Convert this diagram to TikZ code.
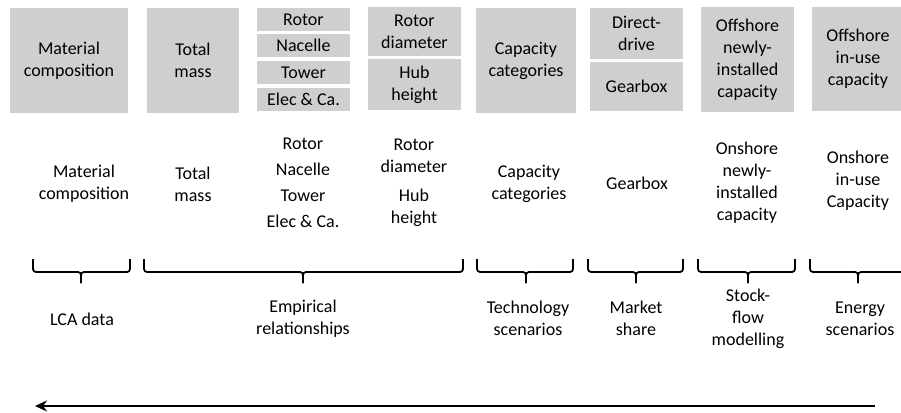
\documentclass[tikz,border=0pt]{standalone}
\usepackage{fontspec}
\setmainfont{Carlito}
\usetikzlibrary{arrows.meta}
\definecolor{boxgray}{RGB}{208,206,206}
\tikzset{
  txt/.style={font=\fontsize{18}{22}\selectfont, align=center, inner sep=0pt},
  gbox/.style={txt, fill=boxgray, minimum width=#1},
  gbox/.default=93pt,
  brace/.style={line width=1.8pt, rounded corners=3pt},
  flowarrow/.style={line width=2.6pt, -{Stealth[length=12pt,width=11pt,inset=4pt]}}
}
\begin{document}
\begin{tikzpicture}[x=1pt,y=-1pt]
\useasboundingbox (0,0) rectangle (901,412);
% top grey boxes
\node[gbox=118pt, minimum height=105pt] (b1) at (69,60.5) {Material\\composition};
\node[gbox=92pt, minimum height=105pt] (b2) at (193,60.5) {Total\\mass};
\node[gbox, minimum height=23pt] (b3a) at (303.5,19.5) {Rotor};
\node[gbox, minimum height=23pt] (b3b) at (303.5,45.5) {Nacelle};
\node[gbox, minimum height=23pt] (b3c) at (303.5,72.5) {Tower};
\node[gbox, minimum height=23pt] (b3d) at (303.5,99.5) {Elec \& Ca.};
\node[gbox, minimum height=49pt] (b4a) at (414.5,31.5) {Rotor\\diameter};
\node[gbox, minimum height=51pt] (b4b) at (414.5,84.5) {Hub\\height};
\node[gbox=100pt, minimum height=105pt] (b5) at (526,60.5) {Capacity\\categories};
\node[gbox, minimum height=51pt] (b6a) at (636.5,33.5) {Direct-\\drive};
\node[gbox, minimum height=49pt] (b6b) at (636.5,86.5) {Gearbox};
\node[gbox, minimum height=105pt] (b7) at (747.5,59.5) {Offshore\\newly-\\installed\\capacity};
\node[gbox=92pt, minimum height=104pt] (b8) at (858,59) {Offshore\\in-use\\capacity};
% lower texts
\node[txt] (l1) at (84,184) {Material\\composition};
\node[txt] (l2) at (193,184) {Total\\mass};
\node[txt] (l3) at (303,183) {Rotor\\[4pt]Nacelle\\[4pt]Tower\\[4pt]Elec \& Ca.};
\node[txt] (l4) at (414,183) {Rotor\\diameter\\[7pt]Hub\\height};
\node[txt] (l5) at (529,184) {Capacity\\categories};
\node[txt] (l6) at (637,183) {Gearbox};
\node[txt] (l7) at (747,182.5) {Onshore\\newly-\\installed\\capacity};
\node[txt] (l8) at (858,181) {Onshore\\in-use\\Capacity};
% braces
\foreach \n/\xa/\xm/\xb in {1/33/81/130, 2/144/303/463, 3/477/526/573, 4/588/636/683, 5/698/748/795, 6/810/858/906}{
  \coordinate (bl\n) at (\xa,259);
  \coordinate (bm\n) at (\xm,272);
  \coordinate (bt\n) at (\xm,283);
  \coordinate (br\n) at (\xb,259);
  \draw[brace] (bl\n) |- (bm\n) -- (bt\n);
  \draw[brace] (br\n) |- (bm\n) -- (bt\n);
}
% brace labels
\node[txt] (m1) at (82,319) {LCA data};
\node[txt] (m2) at (303,318.5) {Empirical\\relationships};
\node[txt] (m3) at (528,318.5) {Technology\\scenarios};
\node[txt] (m4) at (636,318.5) {Market\\share};
\node[txt] (m5) at (748,319) {Stock-\\flow\\modelling};
\node[txt] (m6) at (860,318.5) {Energy\\scenarios};
% arrow
\coordinate (aR) at (875,406);
\coordinate (aL) at (35,406);
\draw[flowarrow] (aR) -- (aL);
\end{tikzpicture}
\end{document}
